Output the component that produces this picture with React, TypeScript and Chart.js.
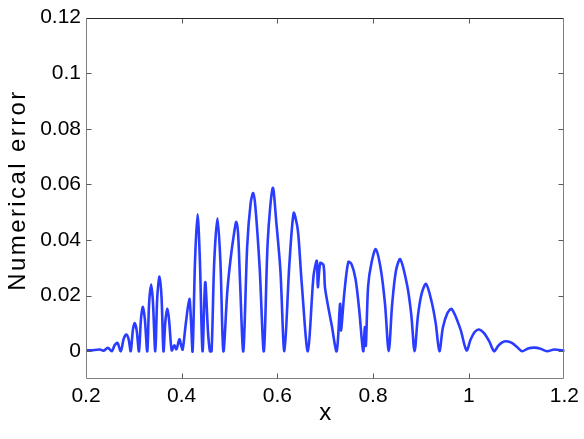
import React, { useEffect, useRef } from "react";
import { Chart, registerables } from "chart.js";

Chart.register(...registerables);

const X_VALUES = [
  0.2, 0.212, 0.222, 0.229, 0.237, 0.2457, 0.254, 0.26, 0.2658, 0.2727,
  0.279, 0.2845, 0.289, 0.2935, 0.298, 0.3018, 0.306, 0.3107, 0.315, 0.319,
  0.323, 0.3281, 0.332, 0.3364, 0.34, 0.3448, 0.349, 0.3537, 0.358, 0.362,
  0.366, 0.3703, 0.374, 0.3792, 0.3848, 0.389, 0.3952, 0.399, 0.4021, 0.409,
  0.416, 0.4195, 0.4228, 0.428, 0.4332, 0.438, 0.4436, 0.4492, 0.455, 0.459,
  0.4625, 0.468, 0.4748, 0.481, 0.4872, 0.4955, 0.5026, 0.51, 0.5142, 0.518,
  0.522, 0.5288, 0.537, 0.5441, 0.5495, 0.554, 0.563, 0.5718, 0.58, 0.5904,
  0.598, 0.6064, 0.6147, 0.625, 0.6341, 0.6409, 0.6444, 0.6513, 0.6638, 0.6756,
  0.6825, 0.6846, 0.6896, 0.6964, 0.6999, 0.7136, 0.724, 0.7311, 0.7331, 0.74,
  0.7483, 0.7551, 0.7634, 0.771, 0.7794, 0.7829, 0.785, 0.7898, 0.797, 0.8058,
  0.8162, 0.825, 0.8328, 0.84, 0.848, 0.8569, 0.8714, 0.88, 0.8868, 0.894,
  0.902, 0.9109, 0.9227, 0.931, 0.9387, 0.946, 0.955, 0.9643, 0.9823, 0.9954,
  1.004, 1.013, 1.0218, 1.032, 1.043, 1.053, 1.062, 1.07, 1.0791, 1.09,
  1.101, 1.1117, 1.124, 1.1373, 1.15, 1.1637, 1.1788, 1.2,
];

const ERROR_VALUES = [
  0.0003, 0.0003, 0.0005, 0.0006, 0.0002, 0.0012, 0.0, 0.0022, 0.003, 0.0,
  0.0046, 0.006, 0.0044, 0.0, 0.0076, 0.0101, 0.0074, 0.0, 0.0118, 0.016,
  0.0115, 0.0, 0.0175, 0.024, 0.0175, 0.0, 0.0195, 0.0268, 0.019, 0.0,
  0.011, 0.0152, 0.0105, 0.0003, 0.0021, 0.0007, 0.0043, 0.002, 0.0006, 0.0105,
  0.0188, 0.011, 0.0, 0.033, 0.0492, 0.033, 0.0, 0.0248, 0.007, 0.0,
  0.0, 0.032, 0.0478, 0.032, 0.0, 0.0218, 0.0337, 0.043, 0.0465, 0.042,
  0.025, 0.0, 0.038, 0.0532, 0.0569, 0.052, 0.03, 0.0, 0.04, 0.0587,
  0.046, 0.0289, 0.0, 0.031, 0.0497, 0.0456, 0.0407, 0.0236, 0.0, 0.0271,
  0.0325, 0.023, 0.0317, 0.031, 0.0224, 0.0093, 0.0, 0.017, 0.0075, 0.021,
  0.0321, 0.0313, 0.026, 0.015, 0.0, 0.0087, 0.002, 0.0236, 0.032, 0.0367,
  0.0295, 0.017, 0.0, 0.017, 0.029, 0.0331, 0.0236, 0.013, 0.0, 0.013,
  0.021, 0.0242, 0.0176, 0.01, 0.0, 0.0085, 0.0135, 0.0152, 0.0081, 0.0003,
  0.0042, 0.007, 0.0078, 0.0065, 0.0035, 0.0, 0.002, 0.0032, 0.0036, 0.003,
  0.0015, 0.0, 0.001, 0.0013, 0.0009, 0.0, 0.0006, 0.0002,
];

const X_TICKS = [0.2, 0.4, 0.6, 0.8, 1.0, 1.2];
const X_TICK_LABELS = ["0.2", "0.4", "0.6", "0.8", "1", "1.2"];
const Y_TICKS = [0, 0.02, 0.04, 0.06, 0.08, 0.1, 0.12];
const Y_TICK_LABELS = ["0", "0.02", "0.04", "0.06", "0.08", "0.1", "0.12"];
const X_TITLE = "x";
const Y_TITLE = "Numerical error";

const FONT_FAMILY = "'Liberation Sans', Arial, Helvetica, sans-serif";

const framePlugin = {
  id: "matlabFrame",
  afterDatasetsDraw(chart: any) {
    const { ctx, chartArea, scales } = chart;
    const { left, right, top, bottom } = chartArea;
    const xs = scales.x;
    const ys = scales.y;
    const L = Math.round(left) + 0.5;
    const R = Math.round(right) - 0.5;
    const T = Math.round(top) + 0.5;
    const B = Math.round(bottom) - 0.5;
    const tickLen = 5;
    ctx.save();
    ctx.lineWidth = 1;
    ctx.strokeStyle = "#7f7f7f";
    ctx.beginPath();
    ctx.moveTo(L, T);
    ctx.lineTo(L, B);
    ctx.lineTo(R, B);
    ctx.lineTo(R, T);
    ctx.stroke();
    ctx.strokeStyle = "#262626";
    ctx.beginPath();
    ctx.moveTo(L, T);
    ctx.lineTo(R, T);
    ctx.stroke();
    ctx.strokeStyle = "#5a5a5a";
    ctx.beginPath();
    X_TICKS.forEach((v) => {
      const px = Math.round(xs.getPixelForValue(v)) + 0.5;
      if (px > L + 1 && px < R - 1) {
        ctx.moveTo(px, B);
        ctx.lineTo(px, B - tickLen);
        ctx.moveTo(px, T);
        ctx.lineTo(px, T + tickLen);
      }
    });
    Y_TICKS.forEach((v) => {
      const py = Math.round(ys.getPixelForValue(v)) + 0.5;
      if (py > T + 1 && py < B - 1) {
        ctx.moveTo(L, py);
        ctx.lineTo(L + tickLen, py);
        ctx.moveTo(R, py);
        ctx.lineTo(R - tickLen, py);
      }
    });
    ctx.stroke();

    // axis titles
    ctx.fillStyle = "#000";
    ctx.font = `24px ${FONT_FAMILY}`;
    ctx.textAlign = "center";
    ctx.textBaseline = "alphabetic";
    ctx.fillText(X_TITLE, (left + right) / 2, 420);

    ctx.translate(25, 190);
    ctx.rotate(-Math.PI / 2);
    try {
      (ctx as any).letterSpacing = "2.4px";
    } catch (e) {}
    ctx.fillText(Y_TITLE, 0, 0);
    ctx.restore();
  },
};

export default function App() {
  const canvasRef = useRef<HTMLCanvasElement | null>(null);

  useEffect(() => {
    if (!canvasRef.current) return;
    const points = X_VALUES.map((x, i) => ({ x, y: ERROR_VALUES[i] }));
    const chart = new Chart(canvasRef.current, {
      type: "scatter",
      data: {
        datasets: [
          {
            data: points,
            showLine: true,
            borderColor: "#2a3cff",
            backgroundColor: "#2a3cff",
            borderWidth: 2.6,
            pointRadius: 0,
            tension: 0.3,
            borderJoinStyle: "round",
            borderCapStyle: "round",
          },
        ],
      },
      options: {
        animation: false,
        responsive: false,
        maintainAspectRatio: false,
        devicePixelRatio: 1,
        layout: { padding: { left: 0, right: 17, top: 13, bottom: 0 } },
        plugins: {
          legend: { display: false },
          tooltip: { enabled: false },
          title: { display: false },
        },
        scales: {
          x: {
            type: "linear",
            min: 0.2,
            max: 1.2,
            grid: { display: false, drawTicks: false },
            border: { display: false },
            afterBuildTicks: (scale: any) => {
              scale.ticks = X_TICKS.map((v) => ({ value: v }));
            },
            afterFit: (scale: any) => {
              scale.height = 60;
            },
            ticks: {
              autoSkip: false,
              maxRotation: 0,
              minRotation: 0,
              padding: 5,
              color: "#000",
              font: { family: FONT_FAMILY, size: 21 },
              callback: (v: any) => {
                const i = X_TICKS.findIndex((t) => Math.abs(t - v) < 1e-9);
                return i >= 0 ? X_TICK_LABELS[i] : "";
              },
            },
          },
          y: {
            type: "linear",
            min: -0.01,
            max: 0.12,
            grid: { display: false, drawTicks: false },
            border: { display: false },
            afterBuildTicks: (scale: any) => {
              scale.ticks = Y_TICKS.map((v) => ({ value: v }));
            },
            afterFit: (scale: any) => {
              scale.width = 86;
            },
            ticks: {
              autoSkip: false,
              padding: 5,
              color: "#000",
              font: { family: FONT_FAMILY, size: 21 },
              callback: (v: any) => {
                const i = Y_TICKS.findIndex((t) => Math.abs(t - v) < 1e-9);
                return i >= 0 ? Y_TICK_LABELS[i] : "";
              },
            },
          },
        },
      },
      plugins: [framePlugin],
    } as any);
    return () => chart.destroy();
  }, []);

  return (
    <div style={{ position: "fixed", left: 0, top: 0, width: 584, height: 439, background: "#fff" }}>
      <canvas ref={canvasRef} width={584} height={439} style={{ width: 584, height: 439, display: "block" }} />
    </div>
  );
}
